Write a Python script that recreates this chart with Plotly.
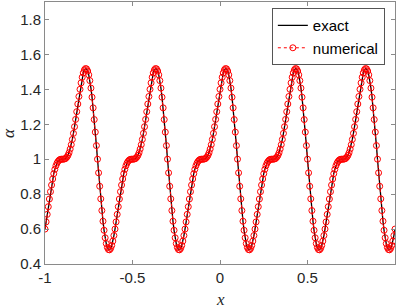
import numpy as np
import plotly.graph_objects as go

# sampling grid in x (uniform, 321 nodes on [-1, 1])
x_values = np.linspace(-1, 1, 321)

# alpha (same curve for exact and numerical)
alpha_exact = [
    0.600, 0.641, 0.684, 0.728, 0.772, 0.814, 0.852, 0.887, 0.917, 0.942, 0.963, 0.978, 0.988, 0.995, 0.999, 1.000,
    1.000, 1.000, 1.002, 1.005, 1.012, 1.022, 1.037, 1.058, 1.083, 1.113, 1.148, 1.186, 1.228, 1.272, 1.316, 1.359,
    1.400, 1.437, 1.469, 1.494, 1.511, 1.519, 1.517, 1.505, 1.483, 1.450, 1.407, 1.355, 1.294, 1.227, 1.155, 1.078,
    1.000, 0.922, 0.845, 0.773, 0.706, 0.645, 0.593, 0.550, 0.517, 0.495, 0.483, 0.481, 0.489, 0.506, 0.531, 0.563,
    0.600, 0.641, 0.684, 0.728, 0.772, 0.814, 0.852, 0.887, 0.917, 0.942, 0.963, 0.978, 0.988, 0.995, 0.999, 1.000,
    1.000, 1.000, 1.002, 1.005, 1.012, 1.022, 1.037, 1.058, 1.083, 1.113, 1.148, 1.186, 1.228, 1.272, 1.316, 1.359,
    1.400, 1.437, 1.469, 1.494, 1.511, 1.519, 1.517, 1.505, 1.483, 1.450, 1.407, 1.355, 1.294, 1.227, 1.155, 1.078,
    1.000, 0.922, 0.845, 0.773, 0.706, 0.645, 0.593, 0.550, 0.517, 0.495, 0.483, 0.481, 0.489, 0.506, 0.531, 0.563,
    0.600, 0.641, 0.684, 0.728, 0.772, 0.814, 0.852, 0.887, 0.917, 0.942, 0.963, 0.978, 0.988, 0.995, 0.999, 1.000,
    1.000, 1.000, 1.002, 1.005, 1.012, 1.022, 1.037, 1.058, 1.083, 1.113, 1.148, 1.186, 1.228, 1.272, 1.316, 1.359,
    1.400, 1.437, 1.469, 1.494, 1.511, 1.519, 1.517, 1.505, 1.483, 1.450, 1.407, 1.355, 1.294, 1.227, 1.155, 1.078,
    1.000, 0.922, 0.845, 0.773, 0.706, 0.645, 0.593, 0.550, 0.517, 0.495, 0.483, 0.481, 0.489, 0.506, 0.531, 0.563,
    0.600, 0.641, 0.684, 0.728, 0.772, 0.814, 0.852, 0.887, 0.917, 0.942, 0.963, 0.978, 0.988, 0.995, 0.999, 1.000,
    1.000, 1.000, 1.002, 1.005, 1.012, 1.022, 1.037, 1.058, 1.083, 1.113, 1.148, 1.186, 1.228, 1.272, 1.316, 1.359,
    1.400, 1.437, 1.469, 1.494, 1.511, 1.519, 1.517, 1.505, 1.483, 1.450, 1.407, 1.355, 1.294, 1.227, 1.155, 1.078,
    1.000, 0.922, 0.845, 0.773, 0.706, 0.645, 0.593, 0.550, 0.517, 0.495, 0.483, 0.481, 0.489, 0.506, 0.531, 0.563,
    0.600, 0.641, 0.684, 0.728, 0.772, 0.814, 0.852, 0.887, 0.917, 0.942, 0.963, 0.978, 0.988, 0.995, 0.999, 1.000,
    1.000, 1.000, 1.002, 1.005, 1.012, 1.022, 1.037, 1.058, 1.083, 1.113, 1.148, 1.186, 1.228, 1.272, 1.316, 1.359,
    1.400, 1.437, 1.469, 1.494, 1.511, 1.519, 1.517, 1.505, 1.483, 1.450, 1.407, 1.355, 1.294, 1.227, 1.155, 1.078,
    1.000, 0.922, 0.845, 0.773, 0.706, 0.645, 0.593, 0.550, 0.517, 0.495, 0.483, 0.481, 0.489, 0.506, 0.531, 0.563,
    0.600,
]
alpha_numerical = list(alpha_exact)

x_tick_vals = [-1, -0.5, 0, 0.5, 1]
x_tick_text = ["-1", "-0.5", "0", "0.5", "1"]
y_tick_vals = [0.4, 0.6, 0.8, 1.0, 1.2, 1.4, 1.6, 1.8]
y_tick_text = ["0.4", "0.6", "0.8", "1", "1.2", "1.4", "1.6", "1.8"]

series_names = ["exact", "numerical"]
x_label = "x"
y_label = "α"

AXIS_COLOR = "#8a8a8a"
TEXT_COLOR = "#262626"
FONT = "Liberation Sans, Arial, sans-serif"
SERIF = "Liberation Serif, serif"

fig = go.Figure()
fig.add_trace(go.Scatter(
    x=x_values, y=alpha_exact, mode="lines", name=series_names[0],
    line=dict(color="black", width=1.3),
))
fig.add_trace(go.Scatter(
    x=x_values, y=alpha_numerical, mode="lines+markers", name=series_names[1],
    line=dict(color="red", width=1, dash="dot"),
    marker=dict(symbol="circle-open", size=6, color="red", line=dict(width=1, color="red")),
))

axis_common = dict(
    showgrid=False, zeroline=False, showline=True, linecolor=AXIS_COLOR, linewidth=1,
    mirror="ticks", ticks="inside", ticklen=4, tickcolor=AXIS_COLOR, tickwidth=1,
    tickfont=dict(family=FONT, size=15, color=TEXT_COLOR), automargin=False,
)

fig.update_layout(
    width=399, height=308,
    margin=dict(l=45, r=4, t=2, b=44),
    paper_bgcolor="white", plot_bgcolor="white",
    xaxis=dict(range=[-1, 1], tickvals=x_tick_vals, ticktext=x_tick_text, **axis_common),
    yaxis=dict(range=[0.4, 1.9], tickvals=y_tick_vals, ticktext=y_tick_text, **axis_common),
    legend=dict(x=0.971, y=0.977, xanchor="right", yanchor="top",
                bgcolor="white", bordercolor="#555555", borderwidth=1,
                font=dict(family=FONT, size=15, color="black"),
                itemwidth=30, tracegroupgap=0),
    showlegend=True,
    annotations=[
        dict(text="<i>%s</i>" % x_label, xref="paper", yref="paper", x=0.5, y=-0.137,
             xanchor="center", yanchor="middle", showarrow=False,
             font=dict(family=SERIF, size=17, color=TEXT_COLOR)),
        dict(text="<i>%s</i>" % y_label, xref="paper", yref="paper", x=-0.106, y=0.5,
             xanchor="center", yanchor="middle", showarrow=False, textangle=-90,
             font=dict(family=SERIF, size=17, color=TEXT_COLOR)),
    ],
)

fig.write_html("out.html", config={"displayModeBar": False},
               post_script="document.body.style.margin='0';document.body.style.overflow='hidden';")
